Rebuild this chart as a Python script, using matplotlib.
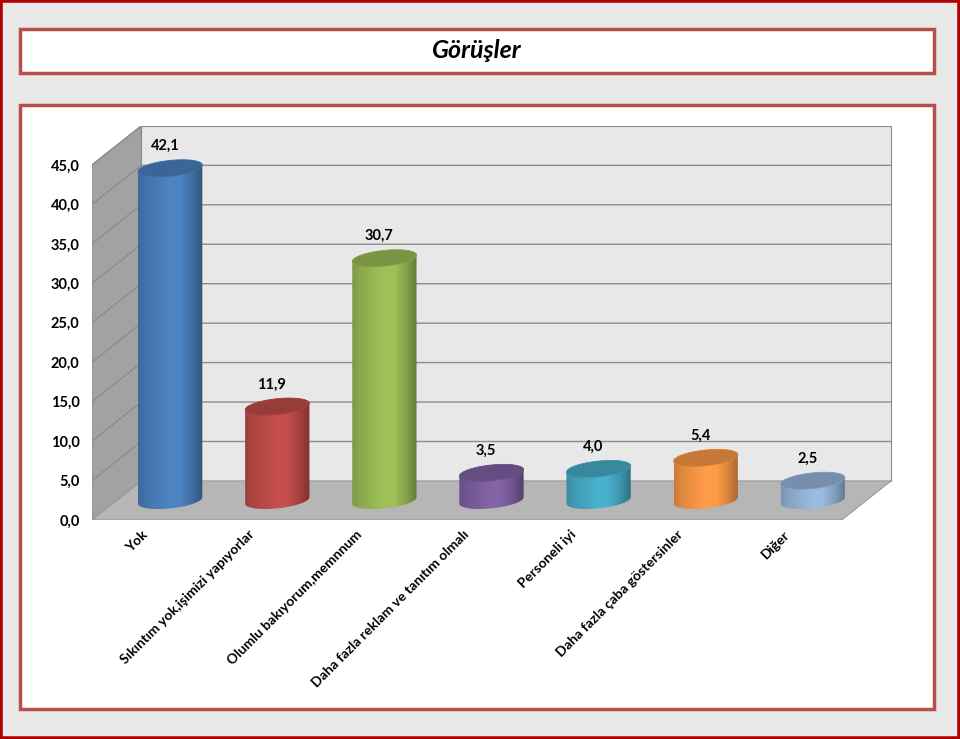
import numpy as np
import matplotlib.pyplot as plt
from matplotlib.patches import Rectangle, Polygon

plt.rcParams['font.family'] = ['Lato', 'DejaVu Sans']

kategoriler = ['Yok', 'Sıkıntım yok,işimizi yapıyorlar', 'Olumlu bakıyorum,memnnum',
               'Daha fazla reklam ve tanıtım olmalı', 'Personeli iyi',
               'Daha fazla çaba göstersinler', 'Diğer']
oranlar = [42.1, 11.9, 30.7, 3.5, 4.0, 5.4, 2.5]
renkler = ['#4A7EBB', '#BE4B48', '#98B954', '#7D60A0', '#46AAC5', '#F79646', '#94B3D8']
y_ticks = [0, 5, 10, 15, 20, 25, 30, 35, 40, 45]

W, H = 960, 739
fig = plt.figure(figsize=(9.6, 7.39), dpi=100, facecolor='#E8E8E8')


def kutu(x0, y0, x1, y1, **kw):
    # piksel koordinatlari (ust-sol orijin) -> figure koordinatlari
    r = Rectangle((x0 / W, 1 - y1 / H), (x1 - x0) / W, (y1 - y0) / H,
                  transform=fig.transFigure, zorder=-5, **kw)
    fig.add_artist(r)


kutu(0, 0, W, H, fill=False, ec='#B00000', lw=4)
kutu(20, 29, 934, 73, fc='white', ec='#B94F4C', lw=2.5)
kutu(20, 105, 934, 709, fc='white', ec='#B94F4C', lw=2.5)
fig.text(477 / W, 1 - 51 / H, 'Görüşler', ha='center', va='center',
         fontsize=18, fontweight='bold', fontstyle='italic')

ax = fig.add_axes([92 / W, (H - 520) / H, 803.25 / W, 394.5 / H])
ax.set_xlim(0, 7.5)
ax.set_ylim(0, 50)
ax.patch.set_visible(False)
for s in ax.spines.values():
    s.set_visible(False)

n = len(oranlar)
ymax = y_ticks[-1]
dx, dy = 0.46, 4.95   # derinlik

# duvarlar
ax.add_patch(Polygon([(dx, dy), (n + dx, dy), (n + dx, ymax + dy), (dx, ymax + dy)],
                     closed=True, fc='#E8E8E8', ec='#8C8C8C', lw=0.8, zorder=1))
ax.add_patch(Polygon([(0, 0), (dx, dy), (dx, ymax + dy), (0, ymax)],
                     closed=True, fc='#A2A2A2', ec='#8C8C8C', lw=0.8, zorder=1))
for v in y_ticks[1:]:
    ax.plot([0, dx, n + dx], [v, v + dy, v + dy], color='#8C8C8C', lw=1, zorder=2)
ax.add_patch(Polygon([(0, 0), (n, 0), (n + dx, dy), (dx, dy)],
                     closed=True, fc='#B6B6B6', ec='#999999', lw=0.8, zorder=3))

# silindirler
a = 0.3
b = 1.0
kay = 0.1 * (107.1 / 7.89)
u = np.linspace(0, 1, 200)
profil = np.interp(u, [0, 0.1, 0.5, 0.65, 0.85, 1], [0.82, 0.9, 1.05, 1.04, 0.86, 0.66])
for i, (v, c) in enumerate(zip(oranlar, renkler)):
    cx = i + 0.5 + dx / 2
    yb = dy / 2
    yt = v + dy / 2
    t1 = np.linspace(np.pi, 2 * np.pi, 60)
    t2 = np.linspace(0, np.pi, 60)
    xs = np.concatenate([cx + a * np.cos(t1), cx + a * np.cos(t2)])
    ys = np.concatenate([yb + b * np.sin(t1) + kay * a * np.cos(t1),
                         yt + b * np.sin(t2) + kay * a * np.cos(t2)])
    govde = Polygon(np.column_stack([xs, ys]), closed=True, fc='none', ec='none', zorder=5)
    ax.add_patch(govde)
    rgb = np.array(plt.matplotlib.colors.to_rgb(c))
    img = np.clip(profil[:, None] * rgb[None, :], 0, 1)[None, :, :]
    im = ax.imshow(img, extent=(cx - a, cx + a, yb - 2 * b, yt + 2 * b),
                   aspect='auto', zorder=5, interpolation='bilinear')
    im.set_clip_path(govde)
    t = np.linspace(0, 2 * np.pi, 120)
    ust = np.column_stack([cx + a * np.cos(t), yt + b * np.sin(t) + kay * a * np.cos(t)])
    ax.add_patch(Polygon(ust, closed=True, fc=np.clip(rgb * 0.8, 0, 1),
                         ec=np.clip(rgb * 0.88, 0, 1), lw=0.6, zorder=6))
    ax.text(cx - 0.05, yt + 2.8, f'{v:.1f}'.replace('.', ','), ha='center', va='center',
            fontsize=10.5, fontweight='bold', zorder=7)

ax.set_xlim(0, 7.5)
ax.set_ylim(0, 50)
ax.set_yticks(y_ticks)
ax.set_yticklabels([f'{v:.1f}'.replace('.', ',') for v in y_ticks],
                   fontsize=10.5, fontweight='bold')
ax.set_xticks(np.arange(n) + 0.5)
ax.set_xticklabels(kategoriler, rotation=45, ha='right', va='center',
                   rotation_mode='anchor', fontsize=10, fontweight='bold')
ax.tick_params(axis='y', length=0, pad=9)
ax.tick_params(axis='x', length=0, pad=9)

fig.savefig('out.png', dpi=100, facecolor=fig.get_facecolor())
